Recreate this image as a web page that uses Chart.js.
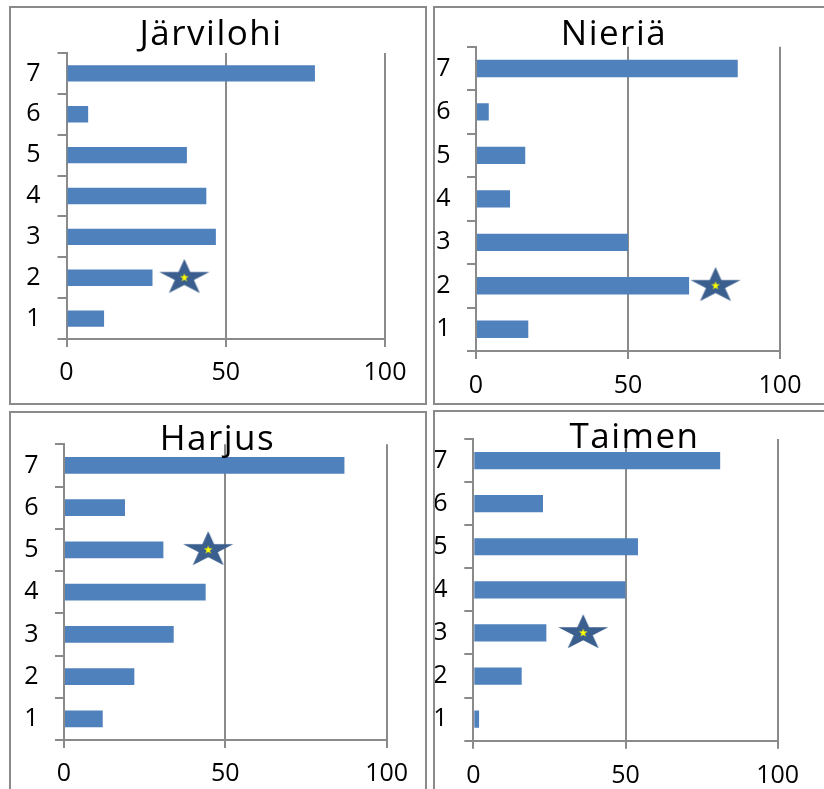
<!DOCTYPE html>
<html>
<head>
<meta charset="utf-8">
<script src="https://cdn.jsdelivr.net/npm/chart.js@4.4.1/dist/chart.umd.min.js"></script>
<style>
  html, body { margin: 0; padding: 0; background: #fff; width: 824px; height: 789px; overflow: hidden; }
  .panel { position: absolute; border: 2px solid #8a8a8a; box-sizing: border-box; background: #fff; }
  .panel canvas { position: absolute; left: 0; top: 0; }
  .title { position: absolute; font-family: "Open Sans", sans-serif; font-size: 35px; line-height: 35px;
           letter-spacing: 1.5px; white-space: nowrap; transform: translateX(-50%); color: #000; }
</style>
</head>
<body>
<script>
// Neljä pientä vaakapylväskaaviota (kalalajit), tähti merkitsee vertailuarvon.
const luokat = ["1", "2", "3", "4", "5", "6", "7"];
const xTikit = [0, 50, 100];

const lajit = ["Järvilohi", "Nieriä", "Harjus", "Taimen"];
const jarvilohi = [11.8, 27, 46.9, 43.9, 37.8, 6.8, 78];
const nieria = [17.2, 70.1, 50, 11.2, 16.2, 4.2, 86.1];
const harjus = [12, 21.8, 34, 43.9, 30.8, 18.9, 86.9];
const taimen = [1.9, 15.9, 24, 50, 54.1, 22.9, 81.1];

const tahtiArvot = [37, 78.8, 44.7, 36.1];
const tahtiLuokat = ["2", "2", "5", "3"];

const sarjat = [jarvilohi, nieria, harjus, taimen];

// paneelien sijainnit sivulla ja kaavioalueen rajat canvasin sisällä
const paneelit = [
  { left: 9,   top: 6,   w: 418, h: 399, area: { l: 55.5, r: 374,   t: 45,   b: 331 },   yPad: 17,   xPad: 10.6, tx: 211,   ty: 32.5 },
  { left: 433, top: 6,   w: 420, h: 399, area: { l: 41,   r: 345,   t: 38.7, b: 343 },   yPad: 16.5, xPad: 11.6, tx: 614,   ty: 32.5 },
  { left: 9,   top: 411, w: 418, h: 400, area: { l: 53,   r: 375.7, t: 31.3, b: 327 },   yPad: 16.5, xPad: 10.6, tx: 217.5, ty: 437.5 },
  { left: 433, top: 410, w: 420, h: 400, area: { l: 38.3, r: 342.7, t: 27,   b: 328.7 }, yPad: 16.8, xPad: 11.9, tx: 634.5, ty: 435.8 },
];

const SININEN = "#4f81bd";
const HARMAA = "#8a8a8a";
const X_AKSELI_H = 45;

Chart.defaults.font.family = '"Open Sans", sans-serif';
Chart.defaults.font.size = 25;
Chart.defaults.color = "#000";

function piirraTahti(g, cx, cy, rx, ry, suhde, vari) {
  g.beginPath();
  for (let i = 0; i < 10; i++) {
    const a = -Math.PI / 2 + i * Math.PI / 5;
    const k = i % 2 === 0 ? 1 : suhde;
    const x = cx + rx * k * Math.cos(a);
    const y = cy + ry * k * Math.sin(a);
    if (i === 0) g.moveTo(x, y); else g.lineTo(x, y);
  }
  g.closePath();
  g.fillStyle = vari;
  g.fill();
}

function tahtiKuva() {
  const c = document.createElement("canvas");
  c.width = 54;
  c.height = 40;
  const g = c.getContext("2d");
  piirraTahti(g, 27, 20, 26.3, 18.8, 0.382, "#3a5e8d");
  piirraTahti(g, 27, 20, 4.6, 4.6, 0.382, "#ffff00");
  return c;
}
const tahti = tahtiKuva();

paneelit.forEach((p, i) => {
  const div = document.createElement("div");
  div.className = "panel";
  Object.assign(div.style, { left: p.left + "px", top: p.top + "px", width: p.w + "px", height: p.h + "px" });
  document.body.appendChild(div);

  const W = p.w - 4, H = p.h - 4;
  const canvas = document.createElement("canvas");
  canvas.width = W;
  canvas.height = H;
  canvas.style.width = W + "px";
  canvas.style.height = H + "px";
  div.appendChild(canvas);

  const otsikko = document.createElement("div");
  otsikko.className = "title";
  otsikko.textContent = lajit[i];
  otsikko.style.left = p.tx + "px";
  otsikko.style.top = (p.ty - 18.6) + "px";
  document.body.appendChild(otsikko);

  new Chart(canvas, {
    type: "bar",
    data: {
      labels: luokat,
      datasets: [
        {
          type: "scatter",
          data: [{ x: tahtiArvot[i], y: tahtiLuokat[i] }],
          pointStyle: tahti,
          order: 0,
        },
        {
          data: sarjat[i],
          backgroundColor: SININEN,
          categoryPercentage: 1,
          barPercentage: 0.4,
          order: 1,
        },
      ],
    },
    options: {
      indexAxis: "y",
      responsive: false,
      animation: false,
      events: [],
      layout: {
        padding: { left: 0, top: p.area.t, right: W - p.area.r, bottom: H - p.area.b - X_AKSELI_H },
      },
      plugins: { legend: { display: false }, tooltip: { enabled: false }, title: { display: false } },
      scales: {
        x: {
          type: "linear",
          min: 0,
          max: 100,
          afterBuildTicks: (ax) => { ax.ticks = xTikit.map((v) => ({ value: v })); },
          afterFit: (ax) => { ax.height = X_AKSELI_H; ax.paddingLeft = 0; ax.paddingRight = 0; },
          ticks: { padding: p.xPad, maxRotation: 0 },
          grid: { color: HARMAA, lineWidth: 2, tickLength: 8 },
          border: { color: HARMAA, width: 2 },
        },
        y: {
          type: "category",
          reverse: true,
          afterFit: (ax) => { ax.width = p.area.l; ax.paddingTop = 0; ax.paddingBottom = 0; },
          ticks: { padding: p.yPad },
          grid: { color: HARMAA, lineWidth: 2, tickLength: 9, drawOnChartArea: false, offset: true },
          border: { color: HARMAA, width: 2 },
        },
      },
    },
  });
});
</script>
</body>
</html>
